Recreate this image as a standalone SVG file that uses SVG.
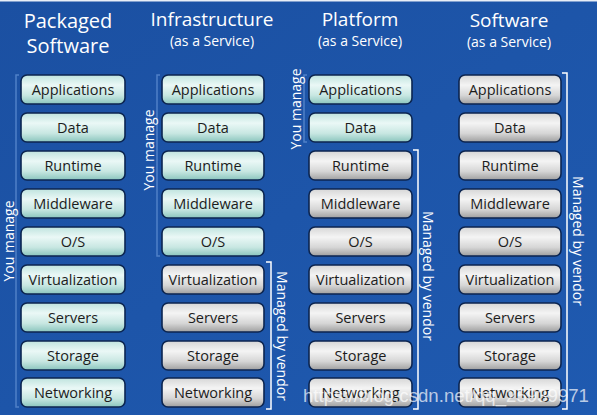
<svg xmlns="http://www.w3.org/2000/svg" width="597" height="415" viewBox="0 0 597 415">
<defs>
<linearGradient id="bg" x1="0" y1="0" x2="1" y2="1">
<stop offset="0" stop-color="#1b50a2"/>
<stop offset="1" stop-color="#1f5ab0"/>
</linearGradient>
<linearGradient id="teal" x1="0" y1="0" x2="0" y2="1">
<stop offset="0" stop-color="#bfe3de"/>
<stop offset="0.35" stop-color="#eaf8f6"/>
<stop offset="0.7" stop-color="#c8e7e2"/>
<stop offset="1" stop-color="#8ac5bd"/>
</linearGradient>
<linearGradient id="gray" x1="0" y1="0" x2="0" y2="1">
<stop offset="0" stop-color="#d6d6d6"/>
<stop offset="0.35" stop-color="#f4f4f4"/>
<stop offset="0.7" stop-color="#d6d6d6"/>
<stop offset="1" stop-color="#9f9f9f"/>
</linearGradient>
</defs>
<style>
.box{stroke:#0c2550;stroke-width:1.6}
.t{fill:url(#teal)}
.g{fill:url(#gray)}
.lbl{font-family:"Open Sans","Noto Sans",sans-serif;font-size:14.5px;fill:#1c1c1c;text-anchor:middle}
.hd{font-family:"Open Sans","Noto Sans",sans-serif;fill:#ffffff;text-anchor:middle}
.side{font-family:"Open Sans","Noto Sans",sans-serif;font-size:14px;fill:#ffffff;text-anchor:middle}
.br{fill:none;stroke:#ffffff;stroke-width:1.5}
.fb{fill:none;stroke:#4f80c8;stroke-width:1.5}
.wm{font-family:"Liberation Sans",Arial,sans-serif;font-size:18px;fill:#ffffff;fill-opacity:0.7}
</style>
<rect x="0" y="0" width="597" height="415" fill="url(#bg)"/>
<rect x="0" y="0" width="597" height="1.5" fill="#e8eef7"/>

<g id="headers">
<text class="hd" x="68" y="28" font-size="20">Packaged</text>
<text class="hd" x="68" y="53" font-size="20">Software</text>
<text class="hd" x="212" y="26" font-size="19">Infrastructure</text>
<text class="hd" x="212" y="46" font-size="14">(as a Service)</text>
<text class="hd" x="360" y="26" font-size="19">Platform</text>
<text class="hd" x="360" y="46" font-size="14">(as a Service)</text>
<text class="hd" x="509" y="27" font-size="19">Software</text>
<text class="hd" x="509" y="47" font-size="14">(as a Service)</text>
</g>

<g id="col1">
<g id="c1-applications"><rect class="box t" x="21" y="75" width="104" height="29" rx="6"/><text class="lbl" x="73" y="94.5">Applications</text></g>
<g id="c1-data"><rect class="box t" x="21" y="113" width="104" height="29" rx="6"/><text class="lbl" x="73" y="132.5">Data</text></g>
<g id="c1-runtime"><rect class="box t" x="21" y="151" width="104" height="29" rx="6"/><text class="lbl" x="73" y="170.5">Runtime</text></g>
<g id="c1-middleware"><rect class="box t" x="21" y="189" width="104" height="29" rx="6"/><text class="lbl" x="73" y="208.5">Middleware</text></g>
<g id="c1-os"><rect class="box t" x="21" y="227" width="104" height="29" rx="6"/><text class="lbl" x="73" y="246.5">O/S</text></g>
<g id="c1-virtualization"><rect class="box t" x="21" y="265" width="104" height="29" rx="6"/><text class="lbl" x="73" y="284.5">Virtualization</text></g>
<g id="c1-servers"><rect class="box t" x="21" y="303" width="104" height="29" rx="6"/><text class="lbl" x="73" y="322.5">Servers</text></g>
<g id="c1-storage"><rect class="box t" x="21" y="341" width="104" height="29" rx="6"/><text class="lbl" x="73" y="360.5">Storage</text></g>
<g id="c1-networking"><rect class="box t" x="21" y="378" width="104" height="29" rx="6"/><text class="lbl" x="73" y="397.5">Networking</text></g>
</g>

<g id="col2">
<g id="c2-applications"><rect class="box t" x="162" y="75" width="102" height="29" rx="6"/><text class="lbl" x="213" y="94.5">Applications</text></g>
<g id="c2-data"><rect class="box t" x="162" y="113" width="102" height="29" rx="6"/><text class="lbl" x="213" y="132.5">Data</text></g>
<g id="c2-runtime"><rect class="box t" x="162" y="151" width="102" height="29" rx="6"/><text class="lbl" x="213" y="170.5">Runtime</text></g>
<g id="c2-middleware"><rect class="box t" x="162" y="189" width="102" height="29" rx="6"/><text class="lbl" x="213" y="208.5">Middleware</text></g>
<g id="c2-os"><rect class="box t" x="162" y="227" width="102" height="29" rx="6"/><text class="lbl" x="213" y="246.5">O/S</text></g>
<g id="c2-virtualization"><rect class="box g" x="162" y="265" width="102" height="29" rx="6"/><text class="lbl" x="213" y="284.5">Virtualization</text></g>
<g id="c2-servers"><rect class="box g" x="162" y="303" width="102" height="29" rx="6"/><text class="lbl" x="213" y="322.5">Servers</text></g>
<g id="c2-storage"><rect class="box g" x="162" y="341" width="102" height="29" rx="6"/><text class="lbl" x="213" y="360.5">Storage</text></g>
<g id="c2-networking"><rect class="box g" x="162" y="378" width="102" height="29" rx="6"/><text class="lbl" x="213" y="397.5">Networking</text></g>
</g>

<g id="col3">
<g id="c3-applications"><rect class="box t" x="309" y="75" width="103" height="29" rx="6"/><text class="lbl" x="360.5" y="94.5">Applications</text></g>
<g id="c3-data"><rect class="box t" x="309" y="113" width="103" height="29" rx="6"/><text class="lbl" x="360.5" y="132.5">Data</text></g>
<g id="c3-runtime"><rect class="box g" x="309" y="151" width="103" height="29" rx="6"/><text class="lbl" x="360.5" y="170.5">Runtime</text></g>
<g id="c3-middleware"><rect class="box g" x="309" y="189" width="103" height="29" rx="6"/><text class="lbl" x="360.5" y="208.5">Middleware</text></g>
<g id="c3-os"><rect class="box g" x="309" y="227" width="103" height="29" rx="6"/><text class="lbl" x="360.5" y="246.5">O/S</text></g>
<g id="c3-virtualization"><rect class="box g" x="309" y="265" width="103" height="29" rx="6"/><text class="lbl" x="360.5" y="284.5">Virtualization</text></g>
<g id="c3-servers"><rect class="box g" x="309" y="303" width="103" height="29" rx="6"/><text class="lbl" x="360.5" y="322.5">Servers</text></g>
<g id="c3-storage"><rect class="box g" x="309" y="341" width="103" height="29" rx="6"/><text class="lbl" x="360.5" y="360.5">Storage</text></g>
<g id="c3-networking"><rect class="box g" x="309" y="378" width="103" height="29" rx="6"/><text class="lbl" x="360.5" y="397.5">Networking</text></g>
</g>

<g id="col4">
<g id="c4-applications"><rect class="box g" x="459" y="75" width="102" height="29" rx="6"/><text class="lbl" x="510" y="94.5">Applications</text></g>
<g id="c4-data"><rect class="box g" x="459" y="113" width="102" height="29" rx="6"/><text class="lbl" x="510" y="132.5">Data</text></g>
<g id="c4-runtime"><rect class="box g" x="459" y="151" width="102" height="29" rx="6"/><text class="lbl" x="510" y="170.5">Runtime</text></g>
<g id="c4-middleware"><rect class="box g" x="459" y="189" width="102" height="29" rx="6"/><text class="lbl" x="510" y="208.5">Middleware</text></g>
<g id="c4-os"><rect class="box g" x="459" y="227" width="102" height="29" rx="6"/><text class="lbl" x="510" y="246.5">O/S</text></g>
<g id="c4-virtualization"><rect class="box g" x="459" y="265" width="102" height="29" rx="6"/><text class="lbl" x="510" y="284.5">Virtualization</text></g>
<g id="c4-servers"><rect class="box g" x="459" y="303" width="102" height="29" rx="6"/><text class="lbl" x="510" y="322.5">Servers</text></g>
<g id="c4-storage"><rect class="box g" x="459" y="341" width="102" height="29" rx="6"/><text class="lbl" x="510" y="360.5">Storage</text></g>
<g id="c4-networking"><rect class="box g" x="459" y="378" width="102" height="29" rx="6"/><text class="lbl" x="510" y="397.5">Networking</text></g>
</g>

<g id="brackets">
<path class="fb" d="M19 75 H16 V407 H19"/>
<path class="fb" d="M160 75 H157 V256 H160"/>
<path class="fb" d="M307 75 H304 V142 H307"/>
<path class="br" d="M266 262 H271 V409 H266"/>
<path class="br" d="M413 150 H418 V409 H413"/>
<path class="br" d="M562 73 H567 V409 H562"/>
</g>

<g id="side-labels">
<text class="side" transform="translate(14 241) rotate(-90)">You manage</text>
<text class="side" transform="translate(154 150) rotate(-90)">You manage</text>
<text class="side" transform="translate(301 109) rotate(-90)">You manage</text>
<text class="side" transform="translate(277 336) rotate(90)">Managed by vendor</text>
<text class="side" transform="translate(423 276) rotate(90)">Managed by vendor</text>
<text class="side" transform="translate(573 241) rotate(90)">Managed by vendor</text>
</g>

<text class="wm" x="303" y="402" textLength="286" lengthAdjust="spacingAndGlyphs">https://blog.csdn.net/qq_25939971</text>
</svg>
